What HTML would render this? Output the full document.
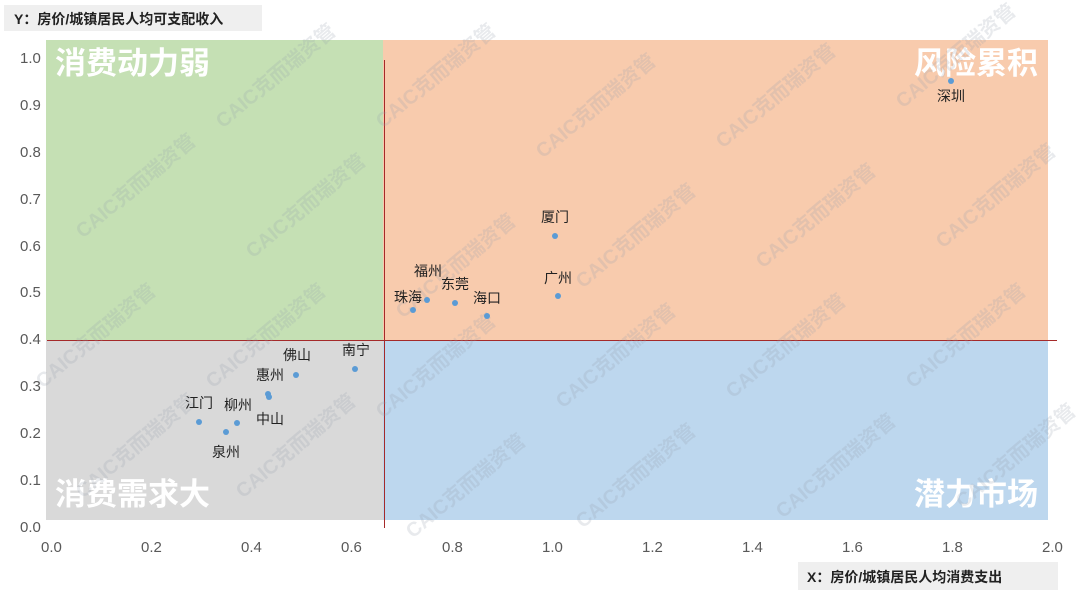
<!DOCTYPE html>
<html><head><meta charset="utf-8"><style>
body{margin:0;width:1080px;height:596px;background:#fff;overflow:hidden;position:relative;font-family:"Liberation Sans","Noto Sans CJK SC",sans-serif}
.a{position:absolute}
.q{position:absolute;color:#fff;font-weight:bold;font-size:31px;line-height:31px}
.t{position:absolute;color:#595959;font-size:15px}
.l{position:absolute;color:#222;font-size:14px;transform:translateX(-50%);white-space:nowrap}
.d{position:absolute;width:6px;height:6px;border-radius:50%;background:#5b9bd5;margin:-3px 0 0 -3px}
.w{position:absolute;color:rgba(150,160,175,0.22);font-size:20px;font-weight:bold;transform:rotate(-40deg);white-space:nowrap}
</style></head><body>
<div class="a" style="left:4px;top:5px;width:258px;height:26px;background:#efefef"></div>
<div class="a" style="left:14px;top:9px;font-size:14px;font-weight:bold;color:#222">Y：房价/城镇居民人均可支配收入</div>
<div class="a" style="left:46px;top:40px;width:337px;height:300px;background:#c5e0b4"></div>
<div class="a" style="left:383px;top:40px;width:665px;height:300px;background:#f8cbad"></div>
<div class="a" style="left:46px;top:340px;width:337px;height:180px;background:#d9d9d9"></div>
<div class="a" style="left:383px;top:340px;width:665px;height:180px;background:#bdd7ee"></div>
<div class="q" style="left:55px;top:48px">消费动力弱</div>
<div class="q" style="left:914px;top:48px">风险累积</div>
<div class="q" style="left:55px;top:479px">消费需求大</div>
<div class="q" style="left:914px;top:479px">潜力市场</div>
<div class="a" style="left:384px;top:60px;width:1px;height:468px;background:#a52a2a"></div>
<div class="a" style="left:47px;top:340px;width:1010px;height:1px;background:#a52a2a"></div>
<div class="w" style="left:60px;top:170px">CAIC克而瑞资管</div>
<div class="w" style="left:200px;top:60px">CAIC克而瑞资管</div>
<div class="w" style="left:360px;top:60px">CAIC克而瑞资管</div>
<div class="w" style="left:520px;top:90px">CAIC克而瑞资管</div>
<div class="w" style="left:700px;top:80px">CAIC克而瑞资管</div>
<div class="w" style="left:880px;top:40px">CAIC克而瑞资管</div>
<div class="w" style="left:230px;top:190px">CAIC克而瑞资管</div>
<div class="w" style="left:380px;top:250px">CAIC克而瑞资管</div>
<div class="w" style="left:560px;top:220px">CAIC克而瑞资管</div>
<div class="w" style="left:740px;top:200px">CAIC克而瑞资管</div>
<div class="w" style="left:920px;top:180px">CAIC克而瑞资管</div>
<div class="w" style="left:20px;top:320px">CAIC克而瑞资管</div>
<div class="w" style="left:190px;top:320px">CAIC克而瑞资管</div>
<div class="w" style="left:360px;top:350px">CAIC克而瑞资管</div>
<div class="w" style="left:540px;top:340px">CAIC克而瑞资管</div>
<div class="w" style="left:710px;top:330px">CAIC克而瑞资管</div>
<div class="w" style="left:890px;top:320px">CAIC克而瑞资管</div>
<div class="w" style="left:60px;top:430px">CAIC克而瑞资管</div>
<div class="w" style="left:220px;top:430px">CAIC克而瑞资管</div>
<div class="w" style="left:390px;top:470px">CAIC克而瑞资管</div>
<div class="w" style="left:560px;top:460px">CAIC克而瑞资管</div>
<div class="w" style="left:760px;top:450px">CAIC克而瑞资管</div>
<div class="w" style="left:940px;top:440px">CAIC克而瑞资管</div>
<div class="t" style="left:20px;top:50px">1.0</div>
<div class="t" style="left:20px;top:97px">0.9</div>
<div class="t" style="left:20px;top:144px">0.8</div>
<div class="t" style="left:20px;top:191px">0.7</div>
<div class="t" style="left:20px;top:238px">0.6</div>
<div class="t" style="left:20px;top:284px">0.5</div>
<div class="t" style="left:20px;top:331px">0.4</div>
<div class="t" style="left:20px;top:378px">0.3</div>
<div class="t" style="left:20px;top:425px">0.2</div>
<div class="t" style="left:20px;top:472px">0.1</div>
<div class="t" style="left:20px;top:519px">0.0</div>
<div class="t" style="left:41px;top:539px">0.0</div>
<div class="t" style="left:141px;top:539px">0.2</div>
<div class="t" style="left:241px;top:539px">0.4</div>
<div class="t" style="left:341px;top:539px">0.6</div>
<div class="t" style="left:442px;top:539px">0.8</div>
<div class="t" style="left:542px;top:539px">1.0</div>
<div class="t" style="left:642px;top:539px">1.2</div>
<div class="t" style="left:742px;top:539px">1.4</div>
<div class="t" style="left:842px;top:539px">1.6</div>
<div class="t" style="left:942px;top:539px">1.8</div>
<div class="t" style="left:1042px;top:539px">2.0</div>
<div class="a" style="left:798px;top:562px;width:260px;height:28px;background:#efefef"></div>
<div class="a" style="left:807px;top:567px;font-size:14px;font-weight:bold;color:#222">X：房价/城镇居民人均消费支出</div>
<div class="d" style="left:951px;top:81px"></div><div class="l" style="left:951px;top:86px">深圳</div>
<div class="d" style="left:555px;top:236px"></div><div class="l" style="left:555px;top:207px">厦门</div>
<div class="d" style="left:558px;top:296px"></div><div class="l" style="left:558px;top:268px">广州</div>
<div class="d" style="left:487px;top:316px"></div><div class="l" style="left:487px;top:288px">海口</div>
<div class="d" style="left:455px;top:303px"></div><div class="l" style="left:455px;top:274px">东莞</div>
<div class="d" style="left:427px;top:300px"></div><div class="l" style="left:428px;top:261px">福州</div>
<div class="d" style="left:413px;top:310px"></div><div class="l" style="left:408px;top:287px">珠海</div>
<div class="d" style="left:355px;top:369px"></div><div class="l" style="left:356px;top:340px">南宁</div>
<div class="d" style="left:296px;top:375px"></div><div class="l" style="left:297px;top:345px">佛山</div>
<div class="d" style="left:268px;top:394px"></div><div class="d" style="left:269px;top:397px"></div><div class="l" style="left:270px;top:365px">惠州</div>
<div class="d" style="left:237px;top:423px"></div><div class="l" style="left:238px;top:395px">柳州</div>
<div class="l" style="left:270px;top:409px">中山</div>
<div class="d" style="left:199px;top:422px"></div><div class="l" style="left:199px;top:393px">江门</div>
<div class="d" style="left:226px;top:432px"></div><div class="l" style="left:226px;top:442px">泉州</div>
</body></html>
